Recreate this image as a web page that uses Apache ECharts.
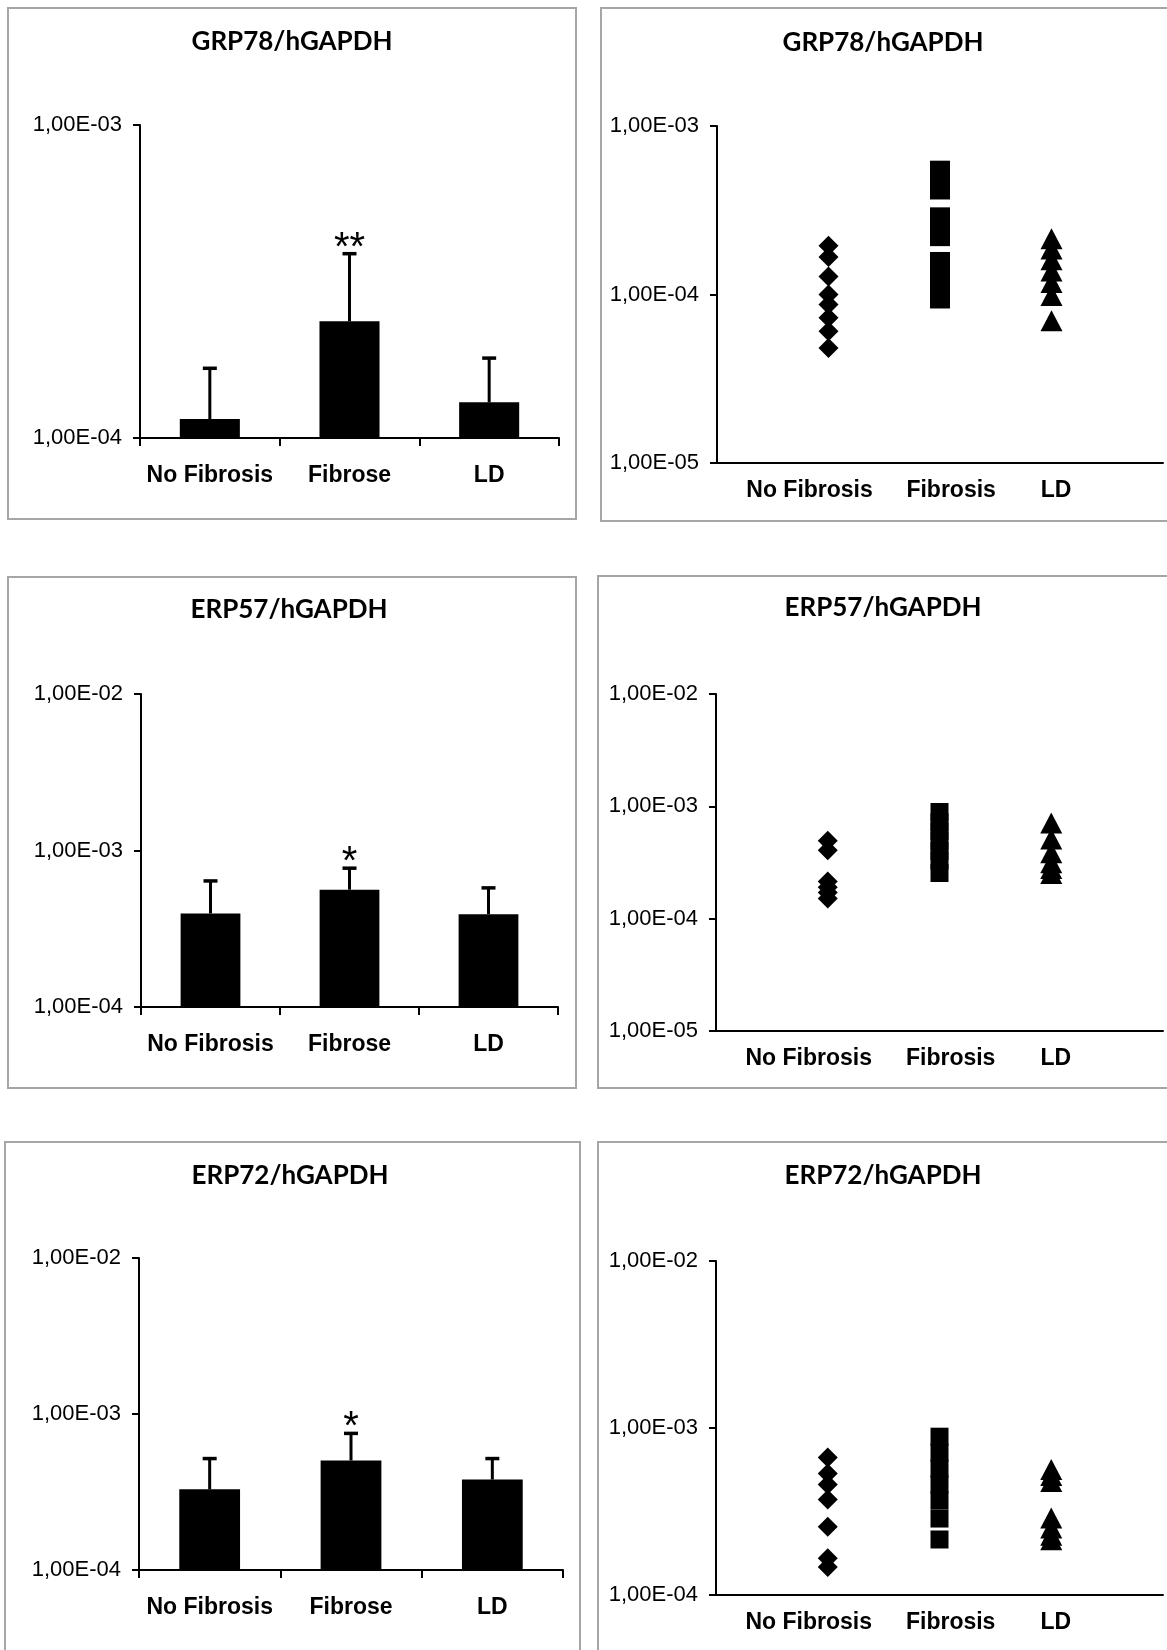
<!DOCTYPE html>
<html>
<head>
<meta charset="utf-8">
<title>GRP78 / ERP57 / ERP72 - hGAPDH</title>
<script src="https://cdn.jsdelivr.net/npm/echarts@6/dist/echarts.min.js"></script>
<style>
  html, body { margin: 0; padding: 0; background: #fff; }
  #main { width: 1167px; height: 1650px; }
</style>
</head>
<body>
<div id="main"></div>
<script>
// ---- bar panels: mean and top of the error bar ----
const barCats = ['No Fibrosis', 'Fibrose', 'LD'];

const grp78Mean = [1.15e-4, 2.36e-4, 1.30e-4];
const grp78Err  = [1.67e-4, 3.88e-4, 1.80e-4];
const grp78Sig  = ['', '**', ''];

const erp57Mean = [3.96e-4, 5.62e-4, 3.92e-4];
const erp57Err  = [6.39e-4, 7.71e-4, 5.77e-4];
const erp57Sig  = ['', '*', ''];

const erp72Mean = [3.29e-4, 5.03e-4, 3.80e-4];
const erp72Err  = [5.18e-4, 7.51e-4, 5.18e-4];
const erp72Sig  = ['', '*', ''];

// ---- dot panels: single values per group (x = 1, 2, 3) ----
const groupNames   = ['No Fibrosis', 'Fibrosis', 'LD'];
const groupLabelAt = [0.83, 2.1, 3.04];

const grp78NoFib = [1.95e-4, 1.67e-4, 1.28e-4, 1.00e-4, 0.873e-4, 0.728e-4, 0.606e-4, 0.482e-4];
const grp78Fib   = [5.43e-4, 4.20e-4, 2.87e-4, 2.22e-4, 1.56e-4, 1.33e-4, 1.11e-4, 0.947e-4];
const grp78LD    = [2.14e-4, 1.86e-4, 1.61e-4, 1.38e-4, 1.18e-4, 0.987e-4, 0.699e-4];

const erp57NoFib = [4.95e-4, 4.07e-4, 2.14e-4, 1.90e-4, 1.71e-4, 1.51e-4];
const erp57Fib   = [8.9e-4, 7.2e-4, 6.0e-4, 4.9e-4, 4.0e-4, 3.3e-4, 2.55e-4];
const erp57LD    = [7.11e-4, 5.13e-4, 3.86e-4, 3.15e-4, 2.8e-4, 2.52e-4];

const erp72NoFib = [6.65e-4, 5.34e-4, 4.59e-4, 3.73e-4, 2.56e-4, 1.66e-4, 1.47e-4];
const erp72Fib   = [8.87e-4, 7.12e-4, 5.71e-4, 4.59e-4, 3.68e-4, 2.87e-4, 2.15e-4];
const erp72LD    = [5.64e-4, 5.19e-4, 4.78e-4, 2.89e-4, 2.52e-4, 2.28e-4, 2.14e-4];

// y ranges (log axes)
const yRanges = [[1e-4, 1e-3], [1e-5, 1e-3], [1e-4, 1e-2], [1e-5, 1e-2], [1e-4, 1e-2], [1e-4, 1e-2]];
const titles = ['GRP78/hGAPDH', 'GRP78/hGAPDH', 'ERP57/hGAPDH', 'ERP57/hGAPDH', 'ERP72/hGAPDH', 'ERP72/hGAPDH'];

// layout
const grids = [
  {left: 140, top: 125, width: 419, height: 313},
  {left: 717, top: 126, width: 446, height: 337},
  {left: 141, top: 694, width: 417, height: 313},
  {left: 716, top: 694, width: 447, height: 337},
  {left: 139, top: 1258, width: 424, height: 312},
  {left: 716, top: 1261, width: 447, height: 334}
];
const titlePos = [[292, 42], [883, 43], [289, 610], [883, 608], [290, 1176], [883, 1176]];
const boxes = [
  [8, 8, 568, 511], [601, 8, 600, 513],
  [8, 577, 568, 511], [598, 576, 600, 512],
  [5, 1142, 575, 600], [598, 1142, 600, 600]
];

const sci = v => {
  const e = Math.round(Math.log10(v));
  const a = Math.abs(e);
  return '1,00E' + (e < 0 ? '-' : '+') + (a < 10 ? '0' + a : a);
};

const black = '#000';
const tickFont = 'Liberation Sans';

const yAxes = yRanges.map((r, i) => ({
  type: 'log', logBase: 10, min: r[0], max: r[1], gridIndex: i,
  axisLine: {show: true, lineStyle: {color: black, width: 2}},
  axisTick: {show: true, length: 7, lineStyle: {color: black, width: 2}},
  minorTick: {show: false},
  splitLine: {show: false},
  axisLabel: {formatter: sci, color: black, fontFamily: tickFont, fontSize: 22, margin: 18}
}));

const barX = (i) => ({
  type: 'category', gridIndex: i, data: barCats,
  axisLine: {show: true, lineStyle: {color: black, width: 2}},
  axisTick: {show: true, length: 8, lineStyle: {color: black, width: 2}},
  axisLabel: {color: black, fontFamily: tickFont, fontWeight: 'bold', fontSize: 23, margin: 26, interval: 0}
});

const dotX = (i) => ({
  type: 'value', gridIndex: i, min: 0, max: 4,
  axisLine: {show: true, lineStyle: {color: black, width: 2}},
  axisTick: {show: false},
  splitLine: {show: false},
  axisLabel: {
    customValues: groupLabelAt,
    formatter: (v) => {
      const k = groupLabelAt.findIndex(p => Math.abs(p - v) < 1e-6);
      return k < 0 ? '' : groupNames[k];
    },
    color: black, fontFamily: tickFont, fontWeight: 'bold', fontSize: 23, margin: 16
  }
});

// bars + upper error bars + significance marks
const barSeries = (idx, mean, err, sig) => ({
  type: 'custom', xAxisIndex: idx, yAxisIndex: idx,
  data: mean.map((m, k) => [k, m, err[k]]),
  renderItem: (params, api) => {
    const yMin = yRanges[idx][0];
    const k = api.value(0);
    const top = api.coord([k, api.value(1)]);
    const base = api.coord([k, yMin]);
    const e = api.coord([k, api.value(2)]);
    const band = api.coord([1, yMin])[0] - api.coord([0, yMin])[0];
    const w = band * 0.43;
    const kids = [
      {type: 'rect', shape: {x: top[0] - w / 2, y: top[1], width: w, height: base[1] - top[1]}, style: {fill: black}},
      {type: 'line', shape: {x1: top[0], y1: top[1], x2: top[0], y2: e[1]}, style: {stroke: black, lineWidth: 3}},
      {type: 'line', shape: {x1: top[0] - 7, y1: e[1], x2: top[0] + 7, y2: e[1]}, style: {stroke: black, lineWidth: 3.5}}
    ];
    const s = sig[params.dataIndex];
    if (s) {
      kids.push({type: 'text', style: {text: s, x: top[0], y: e[1] - 5, fill: black,
        font: '40px "Liberation Sans"', textAlign: 'center', textVerticalAlign: 'middle'}});
    }
    return {type: 'group', children: kids};
  }
});

const dotSeries = (idx, x, vals, symbol, size) => ({
  type: 'scatter', xAxisIndex: idx, yAxisIndex: idx,
  symbol: symbol, symbolSize: size,
  itemStyle: {color: black, opacity: 1},
  data: vals.map(v => [x, v])
});

const option = {
  animation: false,
  backgroundColor: '#fff',
  title: titles.map((t, i) => ({
    text: t, left: titlePos[i][0], top: titlePos[i][1] - 13, textAlign: 'center', padding: 0,
    textStyle: {fontFamily: 'Lato', fontWeight: 'bold', fontSize: 26, color: black}
  })),
  graphic: boxes.map(b => ({
    type: 'rect', shape: {x: b[0], y: b[1], width: b[2], height: b[3]},
    style: {fill: 'none', stroke: '#a6a6a6', lineWidth: 2}, silent: true
  })),
  grid: grids,
  xAxis: [barX(0), dotX(1), barX(2), dotX(3), barX(4), dotX(5)],
  yAxis: yAxes,
  series: [
    barSeries(0, grp78Mean, grp78Err, grp78Sig),
    barSeries(2, erp57Mean, erp57Err, erp57Sig),
    barSeries(4, erp72Mean, erp72Err, erp72Sig),
    dotSeries(1, 1, grp78NoFib, 'diamond', 20),
    dotSeries(1, 2, grp78Fib, 'rect', 20),
    dotSeries(1, 3, grp78LD, 'triangle', [22, 21]),
    dotSeries(3, 1, erp57NoFib, 'diamond', 20),
    dotSeries(3, 2, erp57Fib, 'rect', 18),
    dotSeries(3, 3, erp57LD, 'triangle', [22, 21]),
    dotSeries(5, 1, erp72NoFib, 'diamond', 20),
    dotSeries(5, 2, erp72Fib, 'rect', 18),
    dotSeries(5, 3, erp72LD, 'triangle', [22, 21])
  ]
};

const chart = echarts.init(document.getElementById('main'), null, {renderer: 'canvas'});
chart.setOption(option);
</script>
</body>
</html>
